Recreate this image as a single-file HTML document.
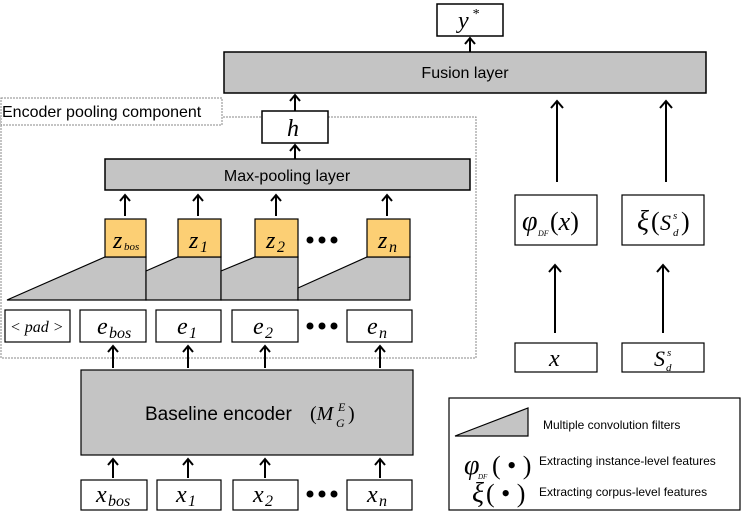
<!DOCTYPE html>
<html><head><meta charset="utf-8"><style>
body{margin:0;background:#fff}
svg{display:block}
.t{font-family:"Liberation Sans",sans-serif}
.m{font-family:"Liberation Serif",serif;font-style:italic}
.n{font-family:"Liberation Serif",serif;font-style:normal}
</style></head><body>
<svg width="747" height="515" viewBox="0 0 747 515" xmlns="http://www.w3.org/2000/svg">
<g stroke="#000" stroke-width="1.5">
<rect x="1" y="117" width="475" height="241" fill="none" stroke="#888" stroke-width="1" stroke-dasharray="2,1"/>
<rect x="1" y="98" width="221" height="27" fill="#fff" stroke="#888" stroke-width="1" stroke-dasharray="2,1"/>
<rect x="437" y="4" width="66" height="32" fill="#fff"/>
<rect x="224" y="52" width="482" height="41" fill="#c4c4c4"/>
<rect x="262" y="111" width="66" height="32" fill="#fff"/>
<rect x="105" y="159" width="365" height="31" fill="#c4c4c4"/>
<path d="M7,300 L105,257 L146,257 L146,300 Z" fill="#c4c4c4" stroke-width="1.2"/>
<path d="M146,271 L178,257 L221,257 L221,300 L146,300 Z" fill="#c4c4c4" stroke-width="1.2"/>
<path d="M221,271 L255,257 L298,257 L298,300 L221,300 Z" fill="#c4c4c4" stroke-width="1.2"/>
<path d="M298,288 L367,257 L410,257 L410,300 L298,300 Z" fill="#c4c4c4" stroke-width="1.2"/>
<g fill="#fccf74" stroke-width="1.2">
<rect x="105" y="219" width="41" height="38"/><rect x="178" y="219" width="43" height="38"/>
<rect x="255" y="219" width="43" height="38"/><rect x="367" y="219" width="43" height="38"/>
</g>
<g fill="#fff" stroke-width="1.2">
<rect x="5" y="310" width="65" height="32"/><rect x="80" y="310" width="66" height="32"/>
<rect x="156" y="310" width="65" height="32"/><rect x="232" y="310" width="66" height="32"/>
<rect x="347" y="310" width="65" height="32"/>
<rect x="81" y="480" width="66" height="30"/><rect x="157" y="480" width="64" height="30"/>
<rect x="233" y="480" width="65" height="30"/><rect x="347" y="480" width="65" height="30"/>
<rect x="515" y="195" width="82" height="50"/><rect x="622" y="195" width="82" height="50"/>
<rect x="515" y="343" width="82" height="29"/><rect x="622" y="343" width="82" height="29"/>
<rect x="449" y="398" width="291" height="112"/>
</g>
<rect x="81" y="370" width="332" height="85" fill="#c4c4c4" stroke-width="1.2"/>
<path d="M455,436 L528,408 L528,436 Z" fill="#c4c4c4" stroke-width="1.2"/>
<g fill="none" stroke-width="2">
<path d="M470,52 V38 M465,44 L470,38 L475,44"/>
<path d="M295,111 V95 M290,101 L295,95 L300,101"/>
<path d="M295,159 V145 M290,151 L295,145 L300,151"/>
<path d="M557,182 V101 M551,108 L557,101 L563,108"/>
<path d="M666,182 V101 M660,108 L666,101 L672,108"/>
<path d="M555,333 V265 M549,272 L555,265 L561,272"/>
<path d="M663,333 V265 M657,272 L663,265 L669,272"/>
<path d="M125,216 V195 M120,201 L125,195 L130,201"/>
<path d="M198,216 V195 M193,201 L198,195 L203,201"/>
<path d="M276,216 V195 M271,201 L276,195 L281,201"/>
<path d="M387,216 V195 M382,201 L387,195 L392,201"/>
<path d="M113,368 V346 M108,352 L113,346 L118,352"/>
<path d="M188,368 V346 M183,352 L188,346 L193,352"/>
<path d="M265,368 V346 M260,352 L265,346 L270,352"/>
<path d="M380,368 V346 M375,352 L380,346 L385,352"/>
<path d="M113,478 V459 M108,465 L113,459 L118,465"/>
<path d="M188,478 V459 M183,465 L188,459 L193,465"/>
<path d="M265,478 V459 M260,465 L265,459 L270,465"/>
<path d="M380,478 V459 M375,465 L380,459 L385,465"/>
</g>
</g>
<g fill="#000">
<circle cx="310" cy="240" r="3.5"/><circle cx="322" cy="240" r="3.5"/><circle cx="334" cy="240" r="3.5"/>
<circle cx="310" cy="326" r="3.5"/><circle cx="322" cy="326" r="3.5"/><circle cx="334" cy="326" r="3.5"/>
<circle cx="310" cy="494" r="3.5"/><circle cx="322" cy="494" r="3.5"/><circle cx="334" cy="494" r="3.5"/>
</g>
<g class="t" font-size="16" text-anchor="middle">
<text x="465" y="78">Fusion layer</text>
<text x="287" y="181">Max-pooling layer</text>
<text x="2" y="117" text-anchor="start" font-size="16">Encoder pooling component</text>
<text x="145" y="420" font-size="19" text-anchor="start">Baseline encoder</text>
</g>
<g class="t" font-size="12">
<text x="543" y="429">Multiple convolution filters</text>
<text x="539" y="465">Extracting instance-level features</text>
<text x="539" y="496">Extracting corpus-level features</text>
</g>
<g class="m" font-size="24">
<text x="310" y="420" font-size="20"><tspan class="n">(</tspan>M</text>
<text x="336" y="427" font-size="12">G</text>
<text x="338" y="411" font-size="12">E</text>
<text x="348" y="420" font-size="20" class="n">)</text>
<text x="458" y="28">y</text><text x="472" y="18" font-size="14">*</text>
<text x="287" y="136">h</text>
<text x="113" y="248">z</text><text x="124" y="250" font-size="11">bos</text>
<text x="189" y="248">z</text><text x="200" y="252" font-size="16">1</text>
<text x="266" y="248">z</text><text x="277" y="252" font-size="16">2</text>
<text x="378" y="248">z</text><text x="389" y="252" font-size="16">n</text>
<text x="10" y="332" font-size="16">&lt; pad &gt;</text>
<text x="97" y="334">e</text><text x="109" y="338" font-size="16">bos</text>
<text x="177" y="334">e</text><text x="189" y="338" font-size="16">1</text>
<text x="253" y="334">e</text><text x="265" y="338" font-size="16">2</text>
<text x="367" y="334">e</text><text x="379" y="338" font-size="16">n</text>
<text x="96" y="502">x</text><text x="108" y="506" font-size="16">bos</text>
<text x="176" y="502">x</text><text x="188" y="506" font-size="16">1</text>
<text x="253" y="502">x</text><text x="265" y="506" font-size="16">2</text>
<text x="367" y="502">x</text><text x="379" y="506" font-size="16">n</text>
<text x="522" y="230" font-size="28">φ</text><text x="538" y="236" font-size="8">DF</text>
<text x="550" y="230" font-size="26"><tspan class="n">(</tspan>x<tspan class="n">)</tspan></text>
<text x="637" y="230" font-size="28">ξ</text>
<text x="651" y="230" font-size="26" class="n">(</text>
<text x="660" y="230" font-size="22">S</text><text x="673" y="219" font-size="11">s</text><text x="673" y="236" font-size="11">d</text>
<text x="681" y="230" font-size="26" class="n">)</text>
<text x="549" y="366">x</text>
<text x="654" y="366" font-size="22">S</text><text x="667" y="356" font-size="11">s</text><text x="666" y="371" font-size="11">d</text>
<text x="464" y="474" font-size="28">φ</text><text x="478" y="479" font-size="7">DF</text>
<text x="492" y="474" font-size="26" class="n">( • )</text>
<text x="472" y="502" font-size="28">ξ</text>
<text x="486" y="502" font-size="26" class="n">( • )</text>
</g>
</svg>
</body></html>
